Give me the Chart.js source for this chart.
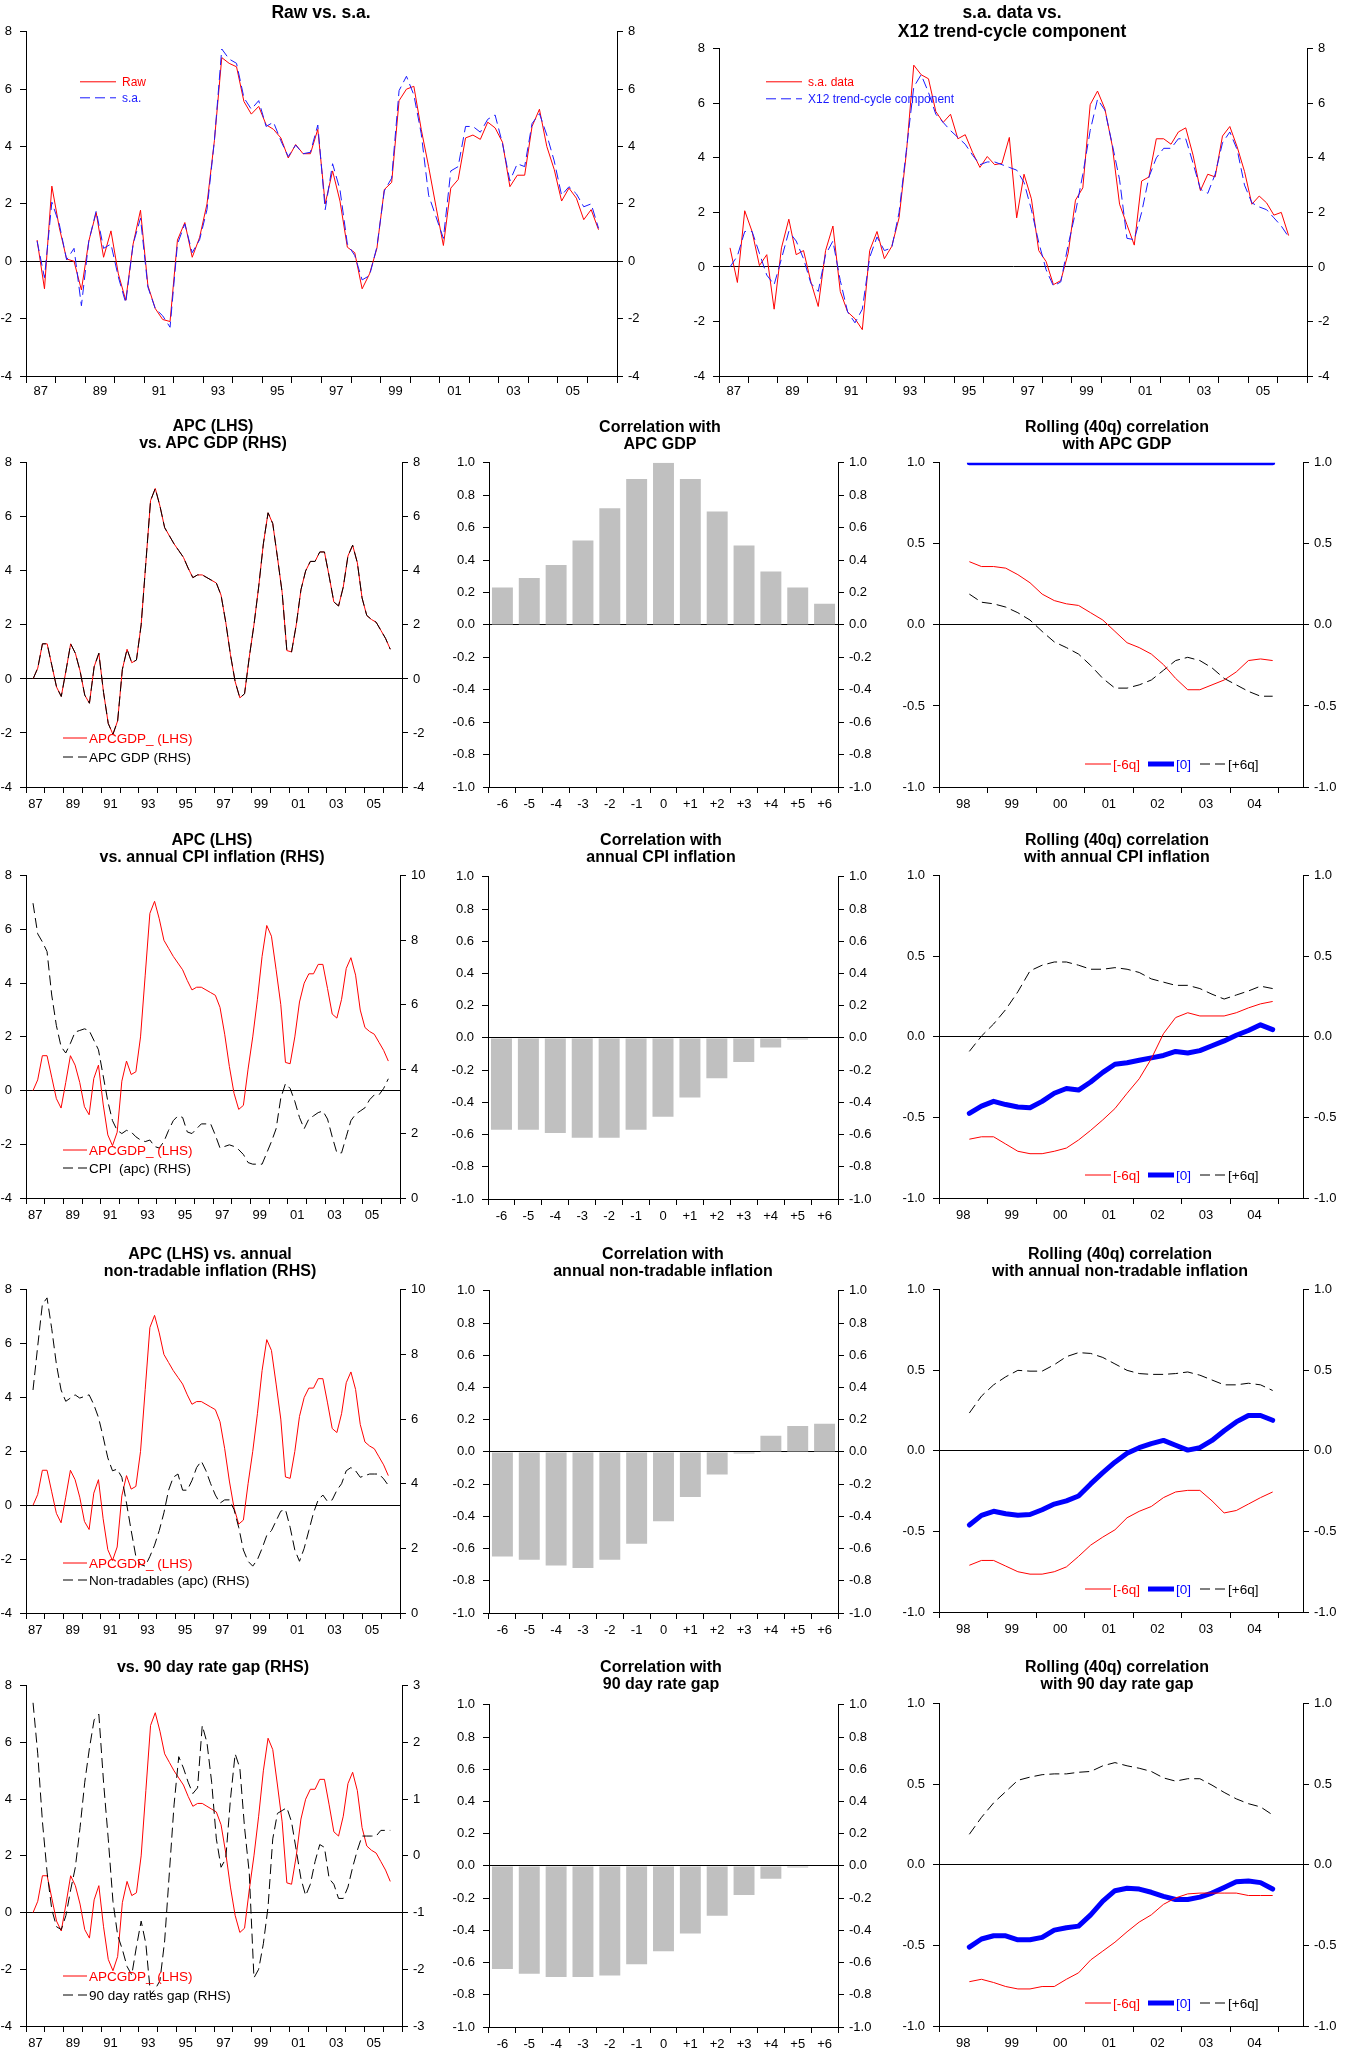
<!DOCTYPE html>
<html>
<head>
<meta charset="utf-8">
<title>APC vs GDP, inflation and rates</title>
<script src="https://cdn.jsdelivr.net/npm/chart.js@4.4.0/dist/chart.umd.min.js"></script>
<style>
  body { margin: 0; background: #fff; width: 1350px; height: 2053px; position: relative; overflow: hidden;
         font-family: "Liberation Sans", Arial, Helvetica, sans-serif; }
  canvas { position: absolute; }
  .ttl { position: absolute; font-weight: bold; font-size: 16px; color: #000; text-align: center; white-space: nowrap; }
</style>
</head>
<body>
<script>
// ===================================
// Data (quarterly, 1987Q2 - 2006Q2)
// ===================================
const qStart = 1987.375;   // 1987Q2, mid-quarter
const rawData = [0.74, -0.96, 2.62, 1.18, 0.08, 0.0, -1.0, 0.7, 1.7, 0.14,
  1.06, -0.44, -1.36, 0.6, 1.78, -0.85, -1.65, -2.03, -2.1, 0.74,
  1.35, 0.14, 0.83, 2.0, 4.2, 7.1, 6.9, 6.78, 5.57, 5.13,
  5.4, 4.76, 4.6, 4.3, 3.6, 4.07, 3.75, 3.75, 4.6, 2.0,
  3.15, 2.1, 0.49, 0.3, -0.96, -0.44, 0.45, 2.5, 2.75, 5.6,
  6.0, 6.1, 4.6, 3.3, 1.9, 0.55, 2.55, 2.85, 4.3, 4.4,
  4.25, 4.85, 4.65, 4.15, 2.6, 3.0, 3.0, 4.7, 5.3, 4.0,
  3.2, 2.1, 2.55, 2.2, 1.45, 1.8, 1.1];
const saData = [0.7, -0.57, 2.06, 1.3, 0.05, 0.45, -1.55, 0.7, 1.75, 0.45,
  0.6, -0.55, -1.45, 0.6, 1.5, -0.9, -1.65, -1.9, -2.3, 0.6,
  1.3, 0.3, 0.75, 1.8, 4.2, 7.4, 7.05, 6.9, 5.7, 5.3,
  5.6, 4.7, 4.85, 4.2, 3.65, 4.05, 3.75, 3.8, 4.75, 1.8,
  3.4, 2.5, 0.6, 0.2, -0.65, -0.5, 0.5, 2.45, 2.9, 5.95,
  6.45, 5.8, 4.45, 2.3, 1.55, 0.8, 3.15, 3.3, 4.7, 4.7,
  4.5, 4.95, 5.1, 4.1, 2.8, 3.4, 3.3, 4.8, 5.15, 4.4,
  3.5, 2.3, 2.6, 2.35, 1.9, 2.0, 1.15];
// X12 trend-cycle = APC GDP
const trendData = [0.0, 0.4, 1.3, 1.3, 0.5, -0.3, -0.65, 0.3, 1.3, 0.95,
  0.3, -0.6, -0.9, 0.45, 0.95, -0.5, -1.65, -2.05, -1.55, 0.35,
  1.1, 0.6, 0.7, 2.0, 4.3, 6.6, 7.05, 6.4, 5.6, 5.3,
  5.0, 4.75, 4.5, 4.1, 3.75, 3.85, 3.85, 3.75, 3.65, 3.55,
  3.1, 2.1, 0.9, -0.1, -0.7, -0.55, 0.8, 2.0, 3.4, 5.0,
  6.15, 5.75, 4.5, 3.2, 1.05, 1.0, 2.0, 3.3, 4.0, 4.35,
  4.35, 4.7, 4.7, 3.8, 2.85, 2.7, 3.4, 4.55, 4.95, 4.3,
  3.0, 2.35, 2.2, 2.1, 1.8, 1.5, 1.1];
const cpiData = [9.15, 8.2, 7.95, 7.65, 6.3, 5.35, 4.7, 4.5, 4.8, 5.15,
  5.2, 5.25, 5.2, 4.9, 4.6, 3.8, 3.0, 2.4, 2.1, 2.0,
  2.1, 2.05, 1.9, 1.8, 1.75, 1.8, 1.6, 1.55, 1.75, 2.1,
  2.4, 2.55, 2.5, 2.05, 2.0, 2.15, 2.3, 2.3, 2.3, 1.95,
  1.55, 1.6, 1.65, 1.6, 1.5, 1.35, 1.1, 1.05, 1.05, 1.05,
  1.4, 1.75, 2.15, 3.1, 3.55, 3.4, 3.0, 2.5, 2.15, 2.45,
  2.55, 2.65, 2.7, 2.45, 1.9, 1.4, 1.4, 1.9, 2.4, 2.6,
  2.7, 2.8, 3.05, 3.2, 3.2, 3.4, 3.7];
const nonTradData = [6.9, 8.25, 9.55, 9.75, 8.8, 7.7, 6.9, 6.55, 6.65, 6.75,
  6.65, 6.7, 6.75, 6.45, 6.05, 5.45, 4.8, 4.4, 4.45, 4.2,
  3.4, 2.55, 1.75, 1.5, 1.45, 1.75, 2.1, 2.55, 3.1, 3.8,
  4.2, 4.3, 3.8, 3.8, 4.1, 4.5, 4.7, 4.4, 4.0, 3.65,
  3.4, 3.5, 3.5, 3.2, 2.65, 1.95, 1.6, 1.45, 1.65, 2.0,
  2.4, 2.55, 2.85, 3.15, 3.2, 2.65, 1.95, 1.6, 2.0, 2.55,
  3.1, 3.5, 3.65, 3.45, 3.5, 3.8, 4.0, 4.4, 4.5, 4.4,
  4.2, 4.25, 4.3, 4.3, 4.3, 4.15, 3.95];
const rateGapData = [2.7, 1.8, 0.6, -0.3, -0.95, -1.25, -1.3, -1.05, -0.6, -0.2,
  0.5, 1.3, 1.9, 2.4, 2.5, 1.3, 0.3, -0.8, -1.4, -1.65,
  -1.95, -2.1, -1.6, -1.15, -1.55, -2.45, -2.35, -2.2, -1.5, -0.3,
  0.9, 1.75, 1.55, 1.3, 1.1, 1.2, 2.3, 2.0, 1.3, 0.3,
  -0.2, -0.05, 1.0, 1.8, 1.55, 0.5, -0.3, -2.15, -2.0, -1.55,
  -0.9, 0.3, 0.75, 0.8, 0.85, 0.6, 0.1, -0.4, -0.7, -0.5,
  -0.1, 0.2, 0.15, -0.4, -0.5, -0.75, -0.75, -0.55, -0.2, 0.1,
  0.35, 0.35, 0.35, 0.35, 0.45, 0.45, 0.45];

// cross-correlations at lags -6..+6
const lagLabels = ['-6', '-5', '-4', '-3', '-2', '-1', '0', '+1', '+2', '+3', '+4', '+5', '+6'];
const gdpCorr = [0.23, 0.29, 0.37, 0.52, 0.72, 0.90, 1.0, 0.90, 0.70, 0.49, 0.33, 0.23, 0.13];
const cpiCorr = [-0.57, -0.57, -0.59, -0.62, -0.62, -0.57, -0.49, -0.37, -0.25, -0.15, -0.06, -0.01, 0.0];
const ntCorr = [-0.65, -0.67, -0.705, -0.72, -0.67, -0.57, -0.43, -0.28, -0.14, -0.01, 0.10, 0.16, 0.175];
const rateCorr = [-0.64, -0.67, -0.69, -0.69, -0.68, -0.61, -0.53, -0.42, -0.31, -0.18, -0.08, -0.01, 0.0];

// rolling 40q correlations, 1998Q3 - 2004Q4
const rStart = 1998.625;
const gdpRollM6 = [0.39, 0.36, 0.36, 0.35, 0.31, 0.26, 0.19, 0.15, 0.13, 0.12, 0.075, 0.03, -0.04,
  -0.11, -0.14, -0.18, -0.245, -0.33, -0.40, -0.40, -0.37, -0.34, -0.29, -0.22, -0.21, -0.22];
const gdpRoll0 = [1, 1, 1, 1, 1, 1, 1, 1, 1, 1, 1, 1, 1, 1, 1, 1, 1, 1, 1, 1, 1, 1, 1, 1, 1, 1];
const gdpRollP6 = [0.19, 0.14, 0.13, 0.11, 0.075, 0.03, -0.04, -0.105, -0.14, -0.18, -0.25, -0.33, -0.39,
  -0.39, -0.37, -0.34, -0.28, -0.22, -0.20, -0.22, -0.265, -0.33, -0.37, -0.41, -0.44, -0.44];
const cpiRollM6 = [-0.635, -0.62, -0.62, -0.665, -0.71, -0.725, -0.725, -0.71, -0.69, -0.64, -0.58, -0.515, -0.445,
  -0.35, -0.26, -0.135, 0.02, 0.12, 0.15, 0.13, 0.13, 0.13, 0.15, 0.18, 0.205, 0.22];
const cpiRoll0 = [-0.475, -0.43, -0.40, -0.42, -0.435, -0.44, -0.40, -0.35, -0.32, -0.33, -0.28, -0.22, -0.17,
  -0.16, -0.145, -0.13, -0.115, -0.09, -0.10, -0.085, -0.055, -0.025, 0.01, 0.04, 0.075, 0.045];
const cpiRollP6 = [-0.09, 0.005, 0.08, 0.17, 0.28, 0.41, 0.445, 0.465, 0.465, 0.445, 0.42, 0.42, 0.43,
  0.42, 0.40, 0.36, 0.34, 0.32, 0.32, 0.30, 0.265, 0.235, 0.26, 0.285, 0.315, 0.30];
const ntRollM6 = [-0.71, -0.68, -0.68, -0.715, -0.75, -0.765, -0.765, -0.75, -0.72, -0.655, -0.585, -0.535, -0.49,
  -0.415, -0.375, -0.345, -0.29, -0.255, -0.245, -0.245, -0.31, -0.385, -0.37, -0.33, -0.29, -0.255];
const ntRoll0 = [-0.46, -0.40, -0.375, -0.39, -0.40, -0.395, -0.365, -0.33, -0.31, -0.28, -0.205, -0.135, -0.07,
  -0.015, 0.02, 0.045, 0.065, 0.035, 0.005, 0.02, 0.065, 0.125, 0.18, 0.22, 0.22, 0.19];
const ntRollP6 = [0.235, 0.34, 0.41, 0.46, 0.50, 0.495, 0.495, 0.535, 0.585, 0.61, 0.605, 0.58, 0.54,
  0.50, 0.48, 0.475, 0.475, 0.48, 0.49, 0.47, 0.44, 0.41, 0.41, 0.42, 0.41, 0.375];
const rateRollM6 = [-0.725, -0.71, -0.73, -0.755, -0.77, -0.77, -0.755, -0.755, -0.71, -0.67, -0.59, -0.535, -0.48,
  -0.415, -0.355, -0.31, -0.245, -0.205, -0.18, -0.175, -0.175, -0.175, -0.175, -0.19, -0.19, -0.19];
const rateRoll0 = [-0.51, -0.46, -0.44, -0.44, -0.465, -0.465, -0.45, -0.405, -0.39, -0.38, -0.31, -0.225, -0.16,
  -0.145, -0.15, -0.17, -0.195, -0.215, -0.215, -0.20, -0.175, -0.14, -0.105, -0.10, -0.11, -0.15];
const rateRollP6 = [0.19, 0.295, 0.385, 0.455, 0.525, 0.545, 0.56, 0.565, 0.565, 0.575, 0.58, 0.615, 0.635,
  0.615, 0.60, 0.58, 0.54, 0.52, 0.535, 0.535, 0.495, 0.45, 0.41, 0.38, 0.36, 0.31];

// ===================================
// Shared setup
// ===================================
const FONT = '"Liberation Sans", Arial, Helvetica, sans-serif';
Chart.defaults.font.family = FONT;
Chart.defaults.color = '#000';
Chart.defaults.animation = false;

const AXW = 50, XH = 30, PADT = 14;
const RED = '#ff0000', BLUE = '#1a1aff', BLACK = '#000000';

// legend drawn inside the plot area
Chart.register({
  id: 'inLegend',
  afterDatasetsDraw(chart, args, o) {
    if (!o || !o.items) return;
    const ctx = chart.ctx, a = chart.chartArea;
    ctx.save();
    o.items.forEach(it => {
      const ds = chart.data.datasets[it.ds];
      const x = a.left + it.x, y = (o.fromBottom ? a.bottom : a.top) + it.y;
      ctx.beginPath();
      ctx.strokeStyle = ds.borderColor;
      ctx.lineWidth = ds.borderWidth;
      ctx.setLineDash(ds.borderDash || []);
      ctx.moveTo(x, y);
      ctx.lineTo(x + o.sw, y);
      ctx.stroke();
      ctx.setLineDash([]);
      ctx.fillStyle = it.color;
      ctx.font = o.size + 'px ' + FONT;
      ctx.textBaseline = 'middle';
      ctx.fillText(it.text, x + o.sw + o.gap, y + 1);
    });
    ctx.restore();
  }
});

const series = (vals, start) => vals.map((v, i) => ({ x: start + i * 0.25, y: v }));
const fmt0 = v => String(Math.round(v));
const fmt1 = v => (Math.abs(v) < 1e-9 ? 0 : v).toFixed(1);

function mount(box) {
  const c = document.createElement('canvas');
  const w = box.r - box.l + 2 * AXW, h = box.b - box.t + PADT + XH;
  c.width = w; c.height = h;
  c.style.left = (box.l - AXW) + 'px';
  c.style.top = (box.t - PADT) + 'px';
  c.style.width = w + 'px';
  c.style.height = h + 'px';
  document.body.appendChild(c);
  return c;
}

function yAxis(pos, min, max, step, fmt, fs) {
  return {
    type: 'linear', position: pos, min: min, max: max,
    afterFit: s => { s.width = AXW; },
    border: { display: true, color: '#000', width: 1 },
    grid: {
      drawOnChartArea: pos === 'left',
      color: c => (c.tick && Math.abs(c.tick.value) < 1e-9 ? '#000' : 'rgba(0,0,0,0)'),
      tickColor: '#000', tickLength: 6, lineWidth: 1
    },
    ticks: { stepSize: step, padding: pos === 'left' ? 8 : 5, font: { size: fs }, callback: fmt }
  };
}

function timeX(min, max, want, fs, tl, pad) {
  return {
    type: 'linear', position: 'bottom', min: min, max: max,
    afterFit: s => { s.height = XH; },
    afterBuildTicks: s => {
      const t = [];
      for (let v = min; v <= max + 1e-9; v += 0.5) t.push({ value: v });
      s.ticks = t;
    },
    border: { display: true, color: '#000', width: 1 },
    grid: {
      drawOnChartArea: false, tickLength: tl,
      tickColor: c => (c.tick && Number.isInteger(c.tick.value) ? '#000' : 'rgba(0,0,0,0)')
    },
    ticks: {
      autoSkip: false, maxRotation: 0, minRotation: 0, padding: pad, font: { size: fs },
      callback: v => {
        if (Math.abs(v - Math.floor(v) - 0.5) > 1e-6) return '';
        const yr = Math.floor(v);
        return want(yr) ? String(yr).slice(2) : '';
      }
    }
  };
}

function options(scales, legend) {
  return {
    responsive: false, animation: false, devicePixelRatio: 1,
    layout: { padding: { top: PADT, left: 0, right: 0, bottom: 0 }, autoPadding: false },
    plugins: { legend: { display: false }, tooltip: { enabled: false }, inLegend: legend || {} },
    scales: scales
  };
}

const redLine = (data, axis) => ({ data, yAxisID: axis || 'y', borderColor: RED, borderWidth: 1, pointRadius: 0, tension: 0 });
const dashLine = (data, color, axis) => ({ data, yAxisID: axis || 'y', borderColor: color, borderWidth: 1,
  borderDash: [10, 5], pointRadius: 0, tension: 0 });
const thickLine = data => ({ data, borderColor: '#0000ff', borderWidth: 5, pointRadius: 0, tension: 0,
  borderJoinStyle: 'round', borderCapStyle: 'round' });

const oddYears = y => y % 2 === 1 && y <= 2005;
const rollYears = y => y >= 1998 && y <= 2004;

// ===================================
// Row 1: raw / s.a. / trend-cycle
// ===================================
function topPanel(box, dsets, legendItems) {
  new Chart(mount(box), {
    type: 'line',
    data: { datasets: dsets },
    options: options({
      x: timeX(1987, 2007, oddYears, 13, 7, 1),
      y: yAxis('left', -4, 8, 2, fmt0, 13),
      y2: yAxis('right', -4, 8, 2, fmt0, 13)
    }, { items: legendItems, sw: 36, gap: 6, size: 12 })
  });
}
topPanel({ l: 26, r: 617, t: 30, b: 376 },
  [dashLine(series(saData, qStart), BLUE), redLine(series(rawData, qStart))],
  [{ ds: 1, text: 'Raw', color: RED, x: 54, y: 50 }, { ds: 0, text: 's.a.', color: BLUE, x: 54, y: 66 }]);
topPanel({ l: 719, r: 1307, t: 47, b: 376 },
  [dashLine(series(trendData, qStart), BLUE), redLine(series(saData, qStart))],
  [{ ds: 1, text: 's.a. data', color: RED, x: 47, y: 33 },
   { ds: 0, text: 'X12 trend-cycle component', color: BLUE, x: 47, y: 50 }]);

// ===================================
// Left column: APC vs. other series
// ===================================
function leftPanel(box, other, rhs, label, legendY) {
  new Chart(mount(box), {
    type: 'line',
    data: { datasets: [dashLine(series(other, qStart), BLACK, 'y2'), redLine(series(trendData, qStart))] },
    options: options({
      x: timeX(1987, 2007, oddYears, 13, 6, 4),
      y: yAxis('left', -4, 8, 2, fmt0, 13),
      y2: yAxis('right', rhs[0], rhs[1], rhs[2], fmt0, 13)
    }, { fromBottom: true, sw: 24, gap: 2, size: 13.5,
         items: [{ ds: 1, text: 'APCGDP_ (LHS)', color: RED, x: 37, y: legendY[0] },
                 { ds: 0, text: label, color: BLACK, x: 37, y: legendY[1] }] })
  });
}
leftPanel({ l: 26, r: 402, t: 461, b: 787 }, trendData, [-4, 8, 2], 'APC GDP (RHS)', [-49, -30]);
leftPanel({ l: 26, r: 400, t: 874, b: 1198 }, cpiData, [0, 10, 2], 'CPI  (apc) (RHS)', [-48, -30]);
leftPanel({ l: 26, r: 400, t: 1288, b: 1613 }, nonTradData, [0, 10, 2], 'Non-tradables (apc) (RHS)', [-50, -33]);
leftPanel({ l: 26, r: 402, t: 1684, b: 2026 }, rateGapData, [-3, 3, 1], '90 day rates gap (RHS)', [-50, -31]);

// ===================================
// Middle column: lag correlations
// ===================================
function barPanel(box, vals) {
  new Chart(mount(box), {
    type: 'bar',
    data: { labels: lagLabels, datasets: [{ data: vals, backgroundColor: '#c0c0c0', borderWidth: 0,
      barPercentage: 0.78, categoryPercentage: 1.0 }] },
    options: options({
      x: {
        type: 'category', offset: true,
        afterFit: s => { s.height = XH; },
        border: { display: true, color: '#000', width: 1 },
        grid: { offset: true, drawOnChartArea: false, tickLength: 6, tickColor: '#000' },
        ticks: { autoSkip: false, maxRotation: 0, minRotation: 0, padding: 4, font: { size: 13 } }
      },
      y: yAxis('left', -1, 1, 0.2, fmt1, 13),
      y2: yAxis('right', -1, 1, 0.2, fmt1, 13)
    })
  });
}
barPanel({ l: 489, r: 838, t: 461, b: 787 }, gdpCorr);
barPanel({ l: 488, r: 838, t: 875, b: 1199 }, cpiCorr);
barPanel({ l: 489, r: 838, t: 1289, b: 1613 }, ntCorr);
barPanel({ l: 489, r: 838, t: 1703, b: 2027 }, rateCorr);

// ===================================
// Right column: rolling correlations
// ===================================
function rollPanel(box, m6, z, p6) {
  new Chart(mount(box), {
    type: 'line',
    data: { datasets: [redLine(series(m6, rStart)), dashLine(series(p6, rStart), BLACK), thickLine(series(z, rStart))] },
    options: options({
      x: timeX(1998, 2005.5, rollYears, 13, 6, 4),
      y: yAxis('left', -1, 1, 0.5, fmt1, 13),
      y2: yAxis('right', -1, 1, 0.5, fmt1, 13)
    }, { fromBottom: true, sw: 26, gap: 2, size: 13.5,
         items: [{ ds: 0, text: '[-6q]', color: RED, x: 146, y: -23 },
                 { ds: 2, text: '[0]', color: '#0000ff', x: 209, y: -23 },
                 { ds: 1, text: '[+6q]', color: BLACK, x: 261, y: -23 }] })
  });
}
rollPanel({ l: 939, r: 1303, t: 461, b: 787 }, gdpRollM6, gdpRoll0, gdpRollP6);
rollPanel({ l: 939, r: 1303, t: 874, b: 1198 }, cpiRollM6, cpiRoll0, cpiRollP6);
rollPanel({ l: 939, r: 1303, t: 1288, b: 1612 }, ntRollM6, ntRoll0, ntRollP6);
rollPanel({ l: 939, r: 1303, t: 1702, b: 2026 }, rateRollM6, rateRoll0, rateRollP6);

// ===================================
// Panel titles
// ===================================
const titles = [
  { cx: 321, top: 3, lh: 19, fs: 17.5, lines: ['Raw vs. s.a.'] },
  { cx: 1012, top: 3, lh: 19, fs: 17.5, lines: ['s.a. data vs.', 'X12 trend-cycle component'] },
  { cx: 213, top: 417, lh: 17, lines: ['APC (LHS)', 'vs. APC GDP (RHS)'] },
  { cx: 660, top: 418, lh: 17, lines: ['Correlation with', 'APC GDP'] },
  { cx: 1117, top: 418, lh: 17, lines: ['Rolling (40q) correlation', 'with APC GDP'] },
  { cx: 212, top: 831, lh: 17, lines: ['APC (LHS)', 'vs. annual CPI inflation (RHS)'] },
  { cx: 661, top: 831, lh: 17, lines: ['Correlation with', 'annual CPI inflation'] },
  { cx: 1117, top: 831, lh: 17, lines: ['Rolling (40q) correlation', 'with annual CPI inflation'] },
  { cx: 210, top: 1245, lh: 17, lines: ['APC (LHS) vs. annual', 'non-tradable inflation (RHS)'] },
  { cx: 663, top: 1245, lh: 17, lines: ['Correlation with', 'annual non-tradable inflation'] },
  { cx: 1120, top: 1245, lh: 17, lines: ['Rolling (40q) correlation', 'with annual non-tradable inflation'] },
  { cx: 213, top: 1658, lh: 17, lines: ['vs. 90 day rate gap (RHS)'] },
  { cx: 661, top: 1658, lh: 17, lines: ['Correlation with', '90 day rate gap'] },
  { cx: 1117, top: 1658, lh: 17, lines: ['Rolling (40q) correlation', 'with 90 day rate gap'] }
];
titles.forEach(t => {
  const d = document.createElement('div');
  d.className = 'ttl';
  d.style.left = t.cx + 'px';
  d.style.top = t.top + 'px';
  d.style.lineHeight = t.lh + 'px';
  if (t.fs) d.style.fontSize = t.fs + 'px';
  d.style.transform = 'translateX(-50%)';
  d.innerHTML = t.lines.join('<br>');
  document.body.appendChild(d);
});
</script>
</body>
</html>
